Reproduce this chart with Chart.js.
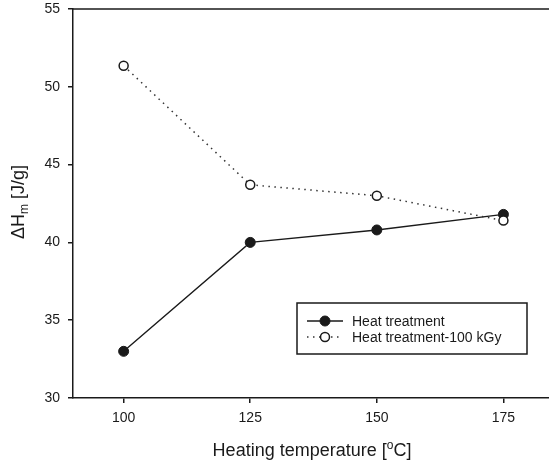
<!DOCTYPE html>
<html>
<head>
<meta charset="utf-8">
<script src="https://cdn.jsdelivr.net/npm/chart.js@4/dist/chart.umd.min.js"></script>
<style>
  html, body { margin: 0; padding: 0; background: #fff; overflow: hidden; }
  #wrap { width: 549px; height: 462px; position: relative; }
</style>
</head>
<body>
<div id="wrap"><canvas id="c" width="549" height="462"></canvas></div>
<script>
// ---- data ----
const categories = [100, 125, 150, 175];
const heatTreatment = [33.0, 40.0, 40.8, 41.8];
const heatTreatment100kGy = [51.35, 43.7, 43.0, 41.4];
const xTickValues = [100, 125, 150, 175];
const yTickValues = [30, 35, 40, 45, 50, 55];
const seriesLabels = ['Heat treatment', 'Heat treatment-100 kGy'];
const xTitleParts = ['Heating temperature [', 'o', 'C]'];
const yTitleParts = ['\u0394H', 'm', ' [J/g]'];

const FONT = '"Liberation Sans", Arial, Helvetica, sans-serif';
const INK = '#1a1a1a';

const topBorder = {
  id: 'topBorder',
  afterDraw(chart) {
    const {ctx, chartArea} = chart;
    ctx.save();
    ctx.strokeStyle = INK;
    ctx.lineWidth = 1.5;
    ctx.beginPath();
    ctx.moveTo(chartArea.left - 0.75, chartArea.top);
    ctx.lineTo(chartArea.right, chartArea.top);
    ctx.stroke();
    ctx.restore();
  }
};

const axisTitles = {
  id: 'axisTitles',
  afterDraw(chart) {
    const {ctx} = chart;
    ctx.save();
    ctx.fillStyle = INK;
    const big = '18px ' + FONT, small = '12px ' + FONT;
    ctx.font = big; const w0 = ctx.measureText(xTitleParts[0]).width;
    ctx.font = small; const w1 = ctx.measureText(xTitleParts[1]).width;
    ctx.font = big; const w2 = ctx.measureText(xTitleParts[2]).width;
    const total = w0 + w1 + w2;
    let x = 312 - total / 2;
    const by = 456;
    ctx.textBaseline = 'alphabetic';
    ctx.textAlign = 'left';
    ctx.font = big; ctx.fillText(xTitleParts[0], x, by); x += w0;
    ctx.font = small; ctx.fillText(xTitleParts[1], x, by - 7); x += w1;
    ctx.font = big; ctx.fillText(xTitleParts[2], x, by);

    ctx.font = big; const v0 = ctx.measureText(yTitleParts[0]).width;
    ctx.font = small; const v1 = ctx.measureText(yTitleParts[1]).width;
    ctx.font = big; const v2 = ctx.measureText(yTitleParts[2]).width;
    const vt = v0 + v1 + v2;
    ctx.translate(24, 202);
    ctx.rotate(-Math.PI / 2);
    let px = -vt / 2;
    ctx.font = big; ctx.fillText(yTitleParts[0], px, 0); px += v0;
    ctx.font = small; ctx.fillText(yTitleParts[1], px, 4); px += v1;
    ctx.font = big; ctx.fillText(yTitleParts[2], px, 0);
    ctx.restore();
  }
};

const boxLegend = {
  id: 'boxLegend',
  afterDraw(chart) {
    const {ctx} = chart;
    const left = 297, top = 303, right = 527, bottom = 354;
    ctx.save();
    ctx.strokeStyle = INK;
    ctx.lineWidth = 1.5;
    ctx.strokeRect(left, top, right - left, bottom - top);
    const rows = [321, 337];
    chart.data.datasets.forEach((ds, i) => {
      const y = rows[i];
      ctx.save();
      ctx.strokeStyle = ds.borderColor;
      ctx.lineWidth = ds.borderWidth;
      ctx.setLineDash(ds.borderDash || []);
      ctx.beginPath();
      ctx.moveTo(307, y);
      ctx.lineTo(343, y);
      ctx.stroke();
      ctx.setLineDash([]);
      ctx.beginPath();
      ctx.arc(325, y, ds.pointRadius, 0, Math.PI * 2);
      ctx.fillStyle = ds.pointBackgroundColor;
      ctx.fill();
      ctx.lineWidth = ds.pointBorderWidth;
      ctx.strokeStyle = ds.pointBorderColor;
      ctx.stroke();
      ctx.restore();
      ctx.fillStyle = INK;
      ctx.font = '14px ' + FONT;
      ctx.textBaseline = 'middle';
      ctx.textAlign = 'left';
      ctx.fillText(ds.label, 352, y + 1);
    });
    ctx.restore();
  }
};

new Chart(document.getElementById('c'), {
  type: 'line',
  data: {
    datasets: [
      {
        label: seriesLabels[0],
        data: categories.map((c, i) => ({x: c, y: heatTreatment[i]})),
        borderColor: INK,
        borderWidth: 1.4,
        pointRadius: 5,
        pointBackgroundColor: INK,
        pointBorderColor: INK,
        pointBorderWidth: 1,
        tension: 0,
        order: 2
      },
      {
        label: seriesLabels[1],
        data: categories.map((c, i) => ({x: c, y: heatTreatment100kGy[i]})),
        borderColor: '#333',
        borderWidth: 1.5,
        borderDash: [1.5, 4.5],
        pointRadius: 4.5,
        pointBackgroundColor: '#fff',
        pointBorderColor: INK,
        pointBorderWidth: 1.5,
        tension: 0,
        order: 1
      }
    ]
  },
  options: {
    responsive: false,
    animation: false,
    devicePixelRatio: 1,
    layout: { autoPadding: false, padding: { top: 9, right: 0, left: 0, bottom: 0 } },
    plugins: { legend: { display: false }, tooltip: { enabled: false } },
    scales: {
      x: {
        type: 'linear',
        min: 90,
        max: 184,
        afterBuildTicks: (s) => { s.ticks = xTickValues.map(v => ({value: v})); },
        afterFit: (s) => { s.height = 462 - 398; s.paddingLeft = 0; s.paddingRight = 0; },
        grid: { display: true, drawOnChartArea: false, drawTicks: true, tickLength: 5, color: INK, lineWidth: 1.5 },
        border: { display: true, color: INK, width: 1.5 },
        ticks: { color: INK, font: { family: FONT, size: 14 }, padding: 7, maxRotation: 0, autoSkip: false }
      },
      y: {
        type: 'linear',
        min: 30,
        max: 55,
        afterBuildTicks: (s) => { s.ticks = yTickValues.map(v => ({value: v})); },
        afterFit: (s) => { s.width = 73; s.paddingTop = 0; s.paddingBottom = 0; },
        grid: { display: true, drawOnChartArea: false, drawTicks: true, tickLength: 5, color: INK, lineWidth: 1.5 },
        border: { display: true, color: INK, width: 1.5 },
        ticks: { color: INK, font: { family: FONT, size: 14 }, padding: 8 }
      }
    }
  },
  plugins: [topBorder, axisTitles, boxLegend]
});
</script>
</body>
</html>
